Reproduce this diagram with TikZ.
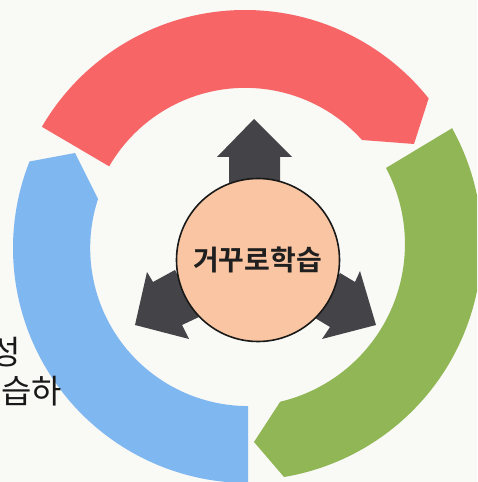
\documentclass[tikz,border=0pt]{standalone}
\usepackage{fontspec}
\newfontfamily\krbold{Noto Sans CJK KR Bold}
\newfontfamily\kr{Noto Sans CJK KR}
\definecolor{paper}{HTML}{F9F9F6}
\definecolor{redband}{HTML}{F76566}
\definecolor{blueband}{HTML}{7FB7F0}
\definecolor{greenband}{HTML}{90B655}
\definecolor{darkarrow}{HTML}{444448}
\definecolor{hub}{HTML}{F9C5A2}
\tikzset{
  band/.style={draw=none},
  arrowshape/.style={fill=darkarrow,draw=none},
  hubnode/.style={circle,draw=black!90,line width=1.6pt,fill=hub,minimum size=163pt,inner sep=0pt},
  sidetext/.style={font=\kr\fontsize{33}{33}\selectfont,text=black!90,inner sep=0pt}
}
\begin{document}
\begin{tikzpicture}[x=1pt,y=1pt]
\useasboundingbox (0,0) rectangle (477,482);
\clip (0,0) rectangle (477,482);
\fill[paper] (0,0) rectangle (477,482);
% red band
\fill[band,redband] (245,237) ++(149.8:235pt) arc[start angle=149.8,end angle=38.6,radius=235pt]
  -- (414,338) -- (362,342) arc[start angle=41.9,end angle=150,radius=157pt] -- cycle;
% blue band
\fill[band,blueband] (248,234) ++(158.4:235pt) -- (75,329) -- (98,283)
  arc[start angle=161.9,end angle=270,radius=158pt] -- (248,-1)
  arc[start angle=270,end angle=158.4,radius=235pt] -- cycle;
% green band
\fill[band,greenband] (245,239) ++(29:237pt) -- (386,314)
  arc[start angle=28,end angle=-76.7,radius=162pt] -- (254,40) -- (284,5)
  arc[start angle=-80.5,end angle=29,radius=237pt] -- cycle;
% arrows
\fill[arrowshape] (254,363) -- (292,325) -- (280,325) -- (280,290) -- (229,290) -- (229,325) -- (217,325) -- cycle;
\fill[arrowshape] (147,210) -- (135,157) -- (189,143) -- (182,157) -- (199,165) -- (175,212) -- (153,200) -- cycle;
\fill[arrowshape] (360,211) -- (376,157) -- (322,143) -- (330,155) -- (315,164) -- (340,209) -- (355,200) -- cycle;
% hub
\node[hubnode] (hubcircle) at (258,222) {};
\node[font=\krbold\fontsize{28}{28}\selectfont,text=black!88,inner sep=0pt] (hublabel) at (257.5,222) {거꾸로학습};
% side text
\node[sidetext,anchor=east] (sideone) at (21,130) {성};
\node[sidetext,anchor=east] (sidetwo) at (62,91) {습하};
\end{tikzpicture}
\end{document}
